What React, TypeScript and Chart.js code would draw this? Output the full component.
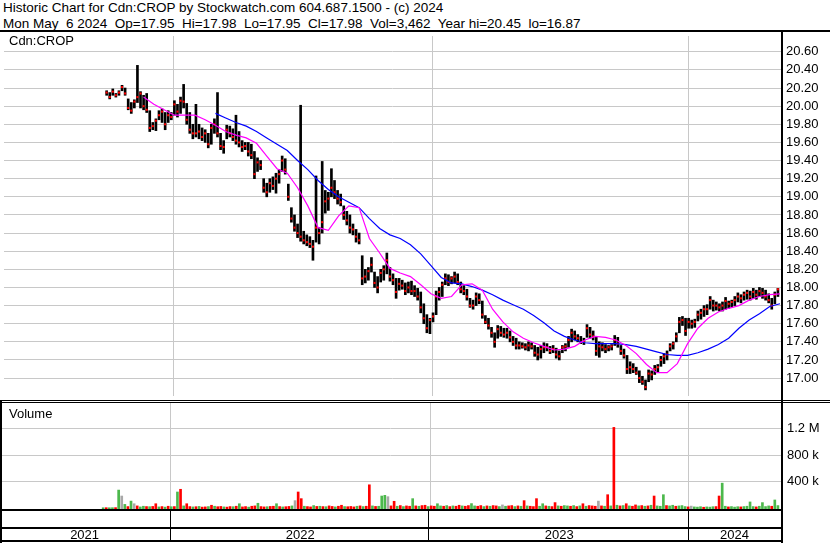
import React, { useEffect, useRef } from "react";
import { Chart, registerables } from "chart.js";

Chart.register(...registerables);

// ---- x axis: trading-day index (0 = start of axis) ----
const AXIS_END_DAY = 757;
const YEAR_BOUNDARY_DAYS = [165, 417, 667];
const YEAR_LABEL_DAYS = [82, 291, 542, 712];
const YEAR_LABELS = ["2021", "2022", "2023", "2024"];

// ---- price samples: every STEP trading days starting at START_DAY ----
const START_DAY = 100;
const STEP = 3;

const priceLow = [
  20.12, 20.08, 20.12, 20.10, 20.12, 20.17, 20.12, 19.96, 19.92, 19.98,
  20.04, 19.98, 19.96, 19.93, 19.72, 19.74, 19.73, 19.85, 19.82, 19.74,
  19.82, 19.85, 19.90, 19.88, 19.92, 19.98, 19.80, 19.70, 19.64, 19.66,
  19.64, 19.62, 19.60, 19.54, 19.58, 19.70, 19.66, 19.52, 19.48, 19.64,
  19.66, 19.62, 19.58, 19.55, 19.50, 19.52, 19.45, 19.42, 19.20, 19.28,
  19.30, 19.05, 19.00, 19.05, 19.08, 19.04, 19.15, 19.28, 19.25, 18.96,
  18.72, 18.62, 18.55, 18.51, 18.48, 18.46, 18.44, 18.30, 18.50, 18.48,
  18.60, 18.82, 18.85, 19.00, 18.98, 18.92, 18.90, 18.75, 18.69, 18.60,
  18.58, 18.50, 18.48, 18.03, 18.05, 18.08, 18.17, 18.00, 17.94, 18.06,
  18.08, 18.15, 18.07, 18.03, 17.88, 17.97, 17.98, 17.92, 17.94, 17.92,
  17.90, 17.86, 17.72, 17.60, 17.50, 17.49, 17.62, 17.70, 17.86, 17.90,
  18.03, 18.02, 18.04, 18.05, 18.03, 17.94, 17.92, 17.86, 17.78, 17.76,
  17.80, 17.82, 17.66, 17.60, 17.54, 17.45, 17.34, 17.44, 17.46, 17.45,
  17.44, 17.40, 17.36, 17.32, 17.32, 17.33, 17.31, 17.30, 17.32, 17.24,
  17.20, 17.22, 17.28, 17.30, 17.27, 17.28, 17.22, 17.20, 17.28, 17.30,
  17.34, 17.40, 17.42, 17.40, 17.38, 17.37, 17.45, 17.44, 17.42, 17.25,
  17.23, 17.30, 17.28, 17.30, 17.31, 17.36, 17.34, 17.26, 17.22, 17.05,
  17.05, 17.06, 17.04, 16.95, 16.93, 16.87, 16.96, 16.98, 17.04, 17.06,
  17.13, 17.16, 17.20, 17.30, 17.32, 17.40, 17.50, 17.58, 17.47, 17.55,
  17.55, 17.56, 17.63, 17.65, 17.68, 17.70, 17.76, 17.74, 17.75, 17.74,
  17.74, 17.76, 17.77, 17.78, 17.80, 17.84, 17.83, 17.86, 17.87, 17.86,
  17.88, 17.87, 17.90, 17.88, 17.86, 17.83, 17.76, 17.82, 17.90,
];

const priceHigh = [
  20.17, 20.15, 20.19, 20.14, 20.17, 20.23, 20.20, 20.08, 20.04, 20.07,
  20.45, 20.16, 20.12, 20.14, 19.95, 19.82, 19.86, 19.95, 19.97, 19.93,
  19.95, 19.93, 20.06, 20.02, 20.10, 20.24, 20.03, 19.93, 19.80, 20.02,
  19.80, 19.76, 19.74, 19.70, 19.80, 19.86, 20.15, 19.70, 19.62, 19.79,
  19.78, 19.75, 19.90, 19.72, 19.62, 19.60, 19.60, 19.58, 19.50, 19.43,
  19.40, 19.20, 19.15, 19.20, 19.22, 19.26, 19.30, 19.45, 19.42, 19.14,
  18.88, 18.80, 18.70, 20.01, 18.62, 18.58, 18.56, 18.52, 19.23, 18.66,
  19.39, 19.07, 19.05, 19.31, 19.18, 19.07, 19.03, 18.90, 18.84, 18.80,
  18.70, 18.64, 18.60, 18.35, 18.20, 18.22, 18.33, 18.17, 18.12, 18.20,
  18.24, 18.38, 18.22, 18.15, 18.10, 18.10, 18.08, 18.05, 18.06, 18.07,
  18.02, 17.99, 17.95, 17.82, 17.70, 17.66, 17.72, 17.96, 18.00, 18.06,
  18.15, 18.14, 18.12, 18.17, 18.15, 18.06, 18.02, 17.98, 17.88, 17.86,
  17.94, 17.93, 17.85, 17.69, 17.66, 17.56, 17.50, 17.58, 17.57, 17.55,
  17.55, 17.52, 17.46, 17.44, 17.40, 17.39, 17.38, 17.40, 17.39, 17.36,
  17.34, 17.36, 17.39, 17.38, 17.35, 17.36, 17.33, 17.30, 17.36, 17.38,
  17.46, 17.54, 17.52, 17.48, 17.46, 17.44, 17.59, 17.56, 17.52, 17.45,
  17.40, 17.39, 17.37, 17.36, 17.37, 17.47, 17.45, 17.36, 17.32, 17.25,
  17.18, 17.16, 17.12, 17.08, 17.02, 16.98, 17.09, 17.08, 17.14, 17.15,
  17.24, 17.27, 17.30, 17.38, 17.40, 17.50, 17.67, 17.68, 17.66, 17.66,
  17.64, 17.65, 17.74, 17.76, 17.80, 17.81, 17.90, 17.86, 17.84, 17.82,
  17.84, 17.89, 17.85, 17.86, 17.90, 17.94, 17.92, 17.95, 17.97, 17.96,
  17.99, 17.97, 18.00, 17.99, 17.97, 17.93, 17.88, 17.95, 17.99,
];

const priceClose = [
  20.15, 20.10, 20.16, 20.12, 20.15, 20.21, 20.14, 19.98, 19.95, 20.05,
  20.10, 20.14, 20.00, 19.96, 19.76, 19.78, 19.84, 19.90, 19.94, 19.80,
  19.90, 19.88, 20.02, 19.94, 20.06, 20.05, 19.85, 19.74, 19.70, 19.70,
  19.72, 19.66, 19.70, 19.58, 19.76, 19.80, 19.70, 19.56, 19.55, 19.74,
  19.70, 19.66, 19.62, 19.60, 19.55, 19.56, 19.50, 19.46, 19.25, 19.38,
  19.35, 19.10, 19.05, 19.15, 19.12, 19.20, 19.25, 19.40, 19.30, 19.00,
  18.76, 18.66, 18.60, 18.56, 18.52, 18.50, 18.48, 18.45, 18.66, 18.60,
  18.72, 18.95, 18.98, 19.10, 19.05, 18.98, 18.94, 18.80, 18.74, 18.66,
  18.64, 18.56, 18.52, 18.10, 18.12, 18.18, 18.25, 18.05, 18.00, 18.16,
  18.20, 18.30, 18.12, 18.08, 17.95, 18.04, 18.02, 17.96, 18.00, 17.96,
  17.96, 17.90, 17.78, 17.66, 17.55, 17.64, 17.68, 17.90, 17.95, 18.03,
  18.10, 18.06, 18.10, 18.12, 18.06, 17.98, 17.96, 17.90, 17.80, 17.80,
  17.90, 17.86, 17.70, 17.62, 17.58, 17.50, 17.40, 17.54, 17.50, 17.48,
  17.50, 17.45, 17.40, 17.36, 17.36, 17.35, 17.34, 17.36, 17.35, 17.28,
  17.26, 17.32, 17.34, 17.34, 17.30, 17.32, 17.26, 17.24, 17.34, 17.35,
  17.42, 17.50, 17.46, 17.44, 17.40, 17.40, 17.55, 17.48, 17.46, 17.30,
  17.35, 17.34, 17.32, 17.34, 17.35, 17.42, 17.38, 17.30, 17.25, 17.10,
  17.12, 17.10, 17.06, 17.00, 16.96, 16.90, 17.05, 17.04, 17.10, 17.12,
  17.20, 17.24, 17.26, 17.35, 17.38, 17.46, 17.62, 17.64, 17.52, 17.62,
  17.60, 17.62, 17.70, 17.72, 17.76, 17.76, 17.86, 17.80, 17.80, 17.78,
  17.80, 17.85, 17.82, 17.84, 17.86, 17.90, 17.88, 17.92, 17.94, 17.90,
  17.95, 17.92, 17.96, 17.94, 17.90, 17.86, 17.80, 17.92, 17.98,
];

// volume (thousands of shares) per sample, and direction: g = up, r = down, n = unchanged
const volumeK = [
  2, 3, 2, 3, 4, 270, 180, 53, 20, 103,
  63, 30, 15, 25, 20, 18, 22, 63, 15, 20,
  12, 25, 18, 20, 241, 282, 30, 63, 20, 15,
  18, 22, 12, 15, 20, 40, 25, 18, 22, 15,
  12, 20, 18, 25, 63, 15, 20, 12, 25, 30,
  70, 20, 15, 18, 22, 25, 63, 20, 15, 18,
  22, 30, 110, 241, 140, 25, 20, 15, 35, 22,
  25, 20, 18, 30, 22, 15, 25, 40, 20, 18,
  22, 15, 25, 30, 20, 25, 350, 30, 22, 25,
  180, 190, 170, 30, 100, 25, 35, 20, 30, 25,
  140, 30, 25, 35, 40, 20, 30, 25, 63, 30,
  25, 35, 20, 30, 25, 40, 30, 25, 35, 65,
  30, 25, 35, 20, 30, 25, 35, 30, 20, 45,
  25, 30, 35, 20, 30, 25, 110, 30, 25, 20,
  140, 25, 63, 30, 25, 20, 80, 30, 25, 35,
  30, 25, 35, 20, 30, 63, 25, 35, 30, 25,
  103, 30, 25, 200, 30, 1220, 40, 30, 35, 63,
  30, 25, 45, 30, 35, 25, 30, 40, 180, 30,
  25, 200, 35, 30, 40, 25, 30, 35, 20, 15,
  27, 15, 12, 18, 10, 15, 12, 18, 20, 180,
  375, 25, 15, 20, 12, 18, 15, 20, 25, 90,
  20, 15, 25, 80, 20, 30, 25, 120, 35,
];

const volumeDir =
  "grggrgngrg" + "nrggrgrrgr" + "grgrgrgrrg" + "rgrrgrgrrg" + "rrgrgrrgrr" +
  "grrgrrgrgr" + "rgnrrgrrgr" + "grgrrgrrgr" + "rrgrgrrgrg" + "ggnrrgrgrr" +
  "grgrrgrrgg" + "rgrgrrgrrg" + "grrgrgrrgn" + "grrgrgrgrr" + "rggrgrrgrg" +
  "grgrgrgrrr" + "nrgrgrgrgr" + "grrgrgrgrg" + "ggrggrgggr" + "ngggrgggrr" +
  "ggrgggrggg" + "grggggrgg";

// ---- moving averages (every MA_STEP trading days) ----
const MA_STEP = 10;
const SHORT_MA_START = 136;
const shortMa = [
  20.10, 20.02, 19.96, 19.90, 19.90, 19.90, 19.85, 19.79, 19.72, 19.68,
  19.65, 19.59, 19.45, 19.31, 19.26, 19.10, 18.90, 18.66, 18.63, 18.79,
  18.90, 18.88, 18.54, 18.38, 18.21, 18.16, 18.12, 18.03, 17.93, 17.88,
  17.90, 18.03, 18.04, 17.97, 17.76, 17.62, 17.51, 17.44, 17.39, 17.35,
  17.31, 17.32, 17.35, 17.42, 17.46, 17.45, 17.42, 17.36, 17.27, 17.15,
  17.06, 17.06, 17.16, 17.38, 17.55, 17.66, 17.73, 17.77, 17.80, 17.86,
  17.90, 17.92, 17.93,
];
const LONG_MA_START = 206;
const longMa = [
  19.92, 19.87, 19.82, 19.78, 19.72, 19.65, 19.58, 19.51, 19.40, 19.30,
  19.18, 19.08, 19.00, 18.94, 18.88, 18.76, 18.65, 18.58, 18.54, 18.47,
  18.37, 18.24, 18.11, 18.05, 18.04, 18.01, 17.97, 17.92, 17.86, 17.81,
  17.76, 17.69, 17.61, 17.52, 17.46, 17.42, 17.39, 17.38, 17.38, 17.38,
  17.37, 17.35, 17.32, 17.29, 17.26, 17.25, 17.25, 17.28, 17.32, 17.37,
  17.44, 17.55, 17.64, 17.71, 17.79, 17.82,
];

// ---- axis ticks ----
const PRICE_TICKS = [17.0, 17.2, 17.4, 17.6, 17.8, 18.0, 18.2, 18.4, 18.6, 18.8, 19.0, 19.2, 19.4, 19.6, 19.8, 20.0, 20.2, 20.4, 20.6];
const PRICE_MIN = 16.8025;
const PRICE_MAX = 20.774;
const VOLUME_TICKS = [400000, 800000, 1200000];
const VOLUME_TICK_LABELS = ["400 k", "800 k", "1.2 M"];
const VOLUME_MIN = -32000;
const VOLUME_MAX = 1590000;

const HEADER_LINE_1 = "Historic Chart for Cdn:CROP by Stockwatch.com 604.687.1500 - (c) 2024";
const HEADER_LINE_2 = "Mon May  6 2024  Op=17.95  Hi=17.98  Lo=17.95  Cl=17.98  Vol=3,462  Year hi=20.45  lo=16.87";
const SYMBOL_LABEL = "Cdn:CROP";
const VOLUME_LABEL = "Volume";

const FONT_FAMILY = '"Liberation Sans", Arial, sans-serif';
const GRID = "#c8c8c8";
const DIR_COLORS: Record<string, string> = { g: "#4cb84c", r: "#ff0000", n: "#a8a8a8" };

const zeroPad = (s: any) => {
  s.paddingLeft = 0;
  s.paddingRight = 0;
  s.paddingTop = 0;
  s.paddingBottom = 0;
};

export default function App() {
  const priceRef = useRef<HTMLCanvasElement>(null);
  const volRef = useRef<HTMLCanvasElement>(null);

  useEffect(() => {
    const days = priceHigh.map((_, i) => START_DAY + i * STEP);
    const tickFont = { family: FONT_FAMILY, size: 13 };

    const priceChart = new Chart(priceRef.current as HTMLCanvasElement, {
      type: "bar",
      data: {
        datasets: [
          {
            type: "line",
            data: shortMa.map((v, i) => ({ x: SHORT_MA_START + i * MA_STEP, y: v })),
            borderColor: "#ff00ff",
            borderWidth: 1.2,
            pointRadius: 0,
            tension: 0,
            order: 0,
          } as any,
          {
            type: "line",
            data: longMa.map((v, i) => ({ x: LONG_MA_START + i * MA_STEP, y: v })),
            borderColor: "#0000ff",
            borderWidth: 1.2,
            pointRadius: 0,
            tension: 0,
            order: 0,
          } as any,
          {
            type: "line",
            showLine: false,
            data: days.map((d, i) => ({ x: d, y: priceClose[i] })),
            pointStyle: "rect",
            pointRadius: 1.45,
            pointBackgroundColor: "#ff0000",
            pointBorderWidth: 0,
            order: 1,
          } as any,
          {
            type: "bar",
            data: days.map((d, i) => ({ x: d, y: [priceLow[i], priceHigh[i]] })),
            backgroundColor: "#000000",
            barThickness: 2,
            order: 2,
          } as any,
        ],
      },
      options: {
        animation: false,
        responsive: false,
        maintainAspectRatio: false,
        layout: { padding: 0 },
        plugins: { legend: { display: false }, tooltip: { enabled: false }, title: { display: false } },
        scales: {
          x: {
            type: "linear",
            min: 0,
            max: AXIS_END_DAY,
            offset: false,
            afterBuildTicks: (s: any) => {
              s.ticks = YEAR_BOUNDARY_DAYS.map((v) => ({ value: v }));
            },
            ticks: { display: false },
            grid: { color: GRID, drawTicks: false, offset: false },
            border: { display: false },
            afterFit: (s: any) => {
              s.height = 0;
              zeroPad(s);
            },
          },
          y: {
            position: "right",
            min: PRICE_MIN,
            max: PRICE_MAX,
            afterBuildTicks: (s: any) => {
              s.ticks = PRICE_TICKS.map((v) => ({ value: v }));
            },
            ticks: {
              callback: (v: any) => Number(v).toFixed(2),
              font: tickFont,
              color: "#000",
              padding: 5,
              autoSkip: false,
            },
            grid: { color: GRID, drawTicks: false },
            border: { display: false },
            afterFit: (s: any) => {
              s.width = 49;
              zeroPad(s);
            },
          },
        },
      } as any,
    });

    const volChart = new Chart(volRef.current as HTMLCanvasElement, {
      type: "bar",
      data: {
        datasets: [
          {
            data: days.map((d, i) => ({ x: d, y: volumeK[i] * 1000 })),
            backgroundColor: days.map((_, i) => DIR_COLORS[volumeDir[i]]),
            barThickness: 2,
            base: VOLUME_MIN,
            xAxisID: "x",
          } as any,
        ],
      },
      options: {
        animation: false,
        responsive: false,
        maintainAspectRatio: false,
        layout: { padding: 0 },
        plugins: { legend: { display: false }, tooltip: { enabled: false } },
        scales: {
          x: {
            type: "linear",
            position: "bottom",
            min: 0,
            max: AXIS_END_DAY,
            offset: false,
            afterBuildTicks: (s: any) => {
              s.ticks = YEAR_BOUNDARY_DAYS.map((v) => ({ value: v }));
            },
            ticks: { display: false },
            grid: { color: GRID, drawTicks: false, offset: false },
            border: { display: false },
            afterFit: (s: any) => {
              s.height = 0;
              zeroPad(s);
            },
          },
          xYear: {
            type: "linear",
            position: "bottom",
            min: 0,
            max: AXIS_END_DAY,
            offset: false,
            afterBuildTicks: (s: any) => {
              s.ticks = YEAR_LABEL_DAYS.map((v) => ({ value: v }));
            },
            ticks: {
              callback: (_v: any, idx: number) => YEAR_LABELS[idx],
              font: tickFont,
              color: "#000",
              padding: 18,
              autoSkip: false,
              maxRotation: 0,
              minRotation: 0,
            },
            grid: { display: false, drawTicks: false },
            border: { display: false },
            afterFit: (s: any) => {
              s.height = 33;
              zeroPad(s);
            },
          },
          y: {
            position: "right",
            min: VOLUME_MIN,
            max: VOLUME_MAX,
            afterBuildTicks: (s: any) => {
              s.ticks = VOLUME_TICKS.map((v) => ({ value: v }));
            },
            ticks: {
              callback: (_v: any, idx: number) => VOLUME_TICK_LABELS[idx],
              font: tickFont,
              color: "#000",
              padding: 6,
              autoSkip: false,
            },
            grid: { color: GRID, drawTicks: false },
            border: { display: false },
            afterFit: (s: any) => {
              s.width = 49;
              zeroPad(s);
            },
          },
        },
      } as any,
    });

    return () => {
      priceChart.destroy();
      volChart.destroy();
    };
  }, []);

  const line = (left: number, top: number, width: number, height: number, color = "#000") => (
    <div style={{ position: "absolute", left, top, width, height, background: color }} />
  );

  return (
    <div
      style={{
        position: "absolute",
        left: 0,
        top: 0,
        width: 830,
        height: 543,
        background: "#fff",
        overflow: "hidden",
        fontFamily: FONT_FAMILY,
        color: "#000",
      }}
    >
      <div style={{ position: "absolute", left: 3, top: 0, fontSize: 13.5, lineHeight: "16px", whiteSpace: "pre" }}>
        {HEADER_LINE_1}
        {"\n"}
        {HEADER_LINE_2}
      </div>
      <canvas
        ref={priceRef}
        width={830}
        height={368}
        style={{ position: "absolute", left: 0, top: 32, width: 830, height: 368 }}
      />
      <canvas
        ref={volRef}
        width={830}
        height={140}
        style={{ position: "absolute", left: 0, top: 403, width: 830, height: 140 }}
      />
      <div style={{ position: "absolute", left: 9, top: 33, fontSize: 13, lineHeight: "15px" }}>{SYMBOL_LABEL}</div>
      <div style={{ position: "absolute", left: 9, top: 406, fontSize: 13, lineHeight: "15px" }}>{VOLUME_LABEL}</div>
      {line(0, 30, 830, 2)}
      {line(0, 400, 830, 1)}
      {line(0, 402, 830, 1)}
      {line(0, 509, 782, 2)}
      {line(0, 527, 782, 2)}
      {line(0, 540, 782, 2)}
      {line(0, 400, 2, 143)}
      {line(781, 30, 2, 513)}
      {line(170, 510, 1, 31)}
      {line(428, 510, 1, 31)}
      {line(688, 510, 1, 31)}
    </div>
  );
}
